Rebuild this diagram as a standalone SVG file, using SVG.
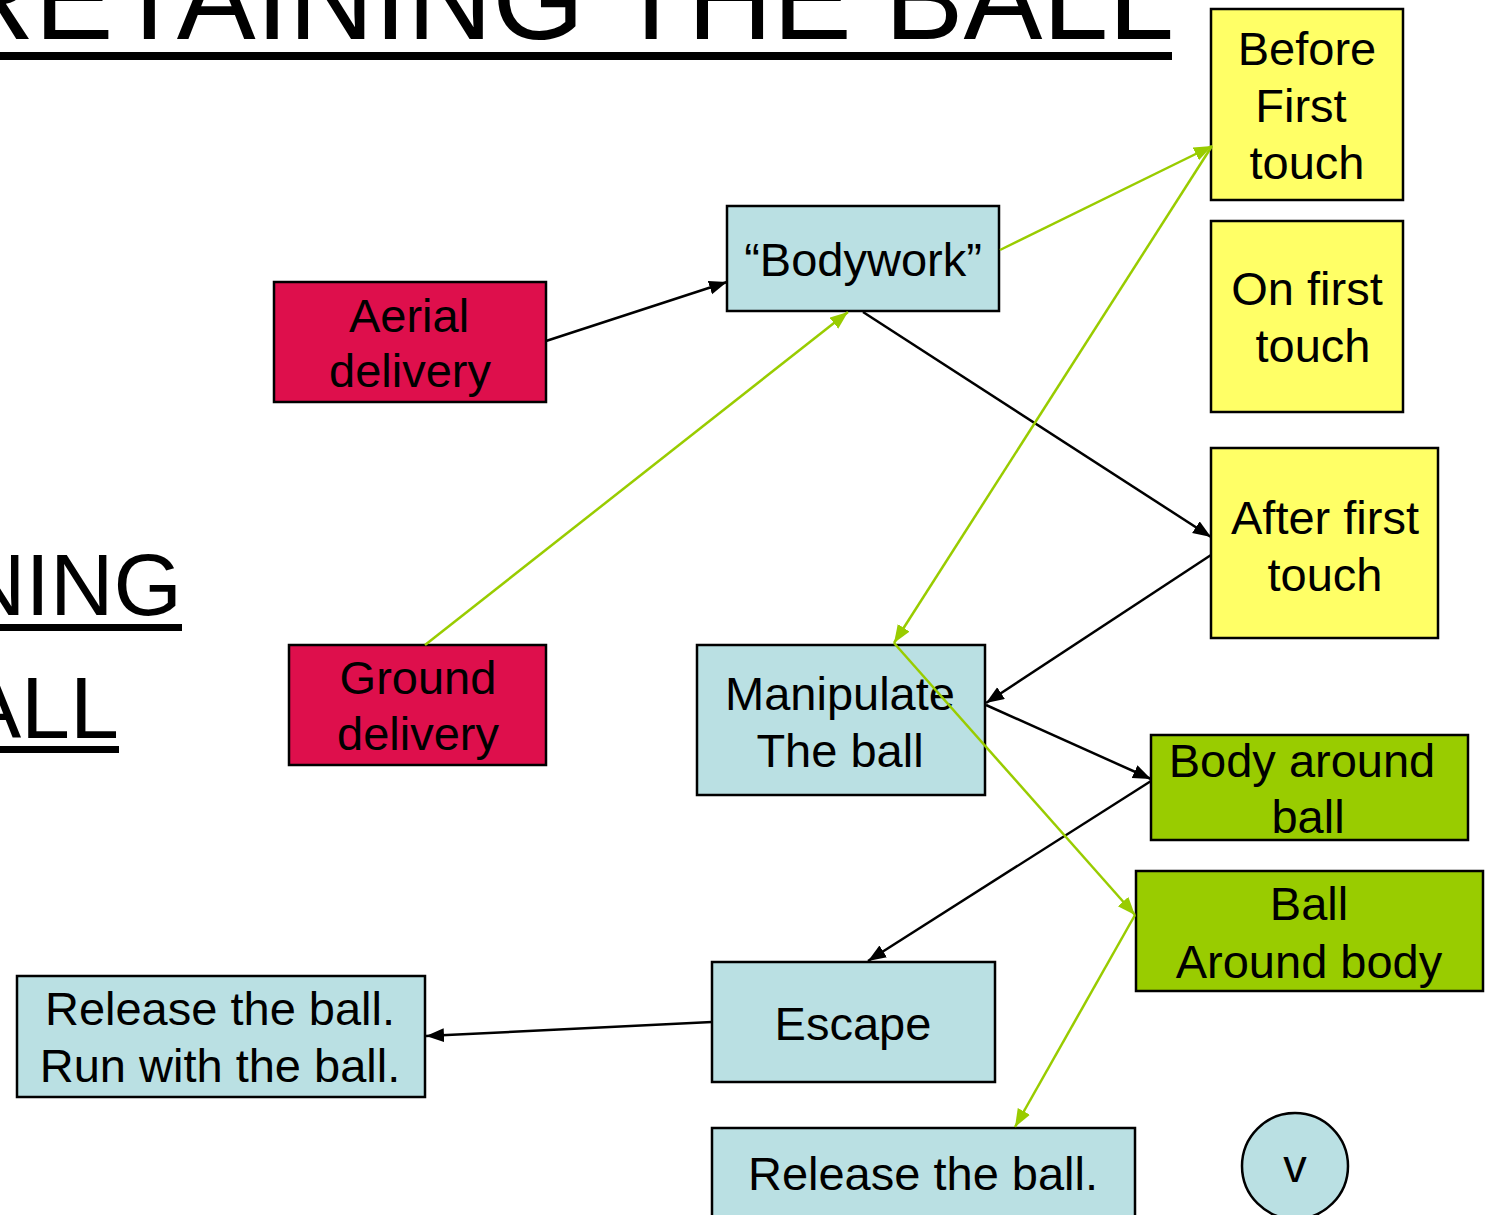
<svg xmlns="http://www.w3.org/2000/svg" width="1488" height="1215" viewBox="0 0 1488 1215">
<defs>
<style>
text{font-family:"Liberation Sans",Arial,sans-serif;fill:#000}
.lbl{font-size:47px;text-anchor:middle}
.box{stroke:#000;stroke-width:2.5}
.blue{fill:#BAE0E3}
.red{fill:#DE0F4C}
.yel{fill:#FFFF66}
.grn{fill:#99CC00}
.k{stroke:#000;stroke-width:2.5;fill:none;marker-end:url(#ak)}
.g{stroke:#99CC00;stroke-width:2.5;fill:none;marker-end:url(#ag)}
</style>
<marker id="ak" markerUnits="userSpaceOnUse" markerWidth="20" markerHeight="16" refX="18" refY="7" orient="auto"><path d="M0,0 L18,7 L0,14 z" fill="#000"/></marker>
<marker id="ag" markerUnits="userSpaceOnUse" markerWidth="20" markerHeight="16" refX="18" refY="7" orient="auto"><path d="M0,0 L18,7 L0,14 z" fill="#99CC00"/></marker>
</defs>
<rect width="1488" height="1215" fill="#fff"/>
<g id="title">
<text x="-51" y="39" font-size="118" textLength="1225" lengthAdjust="spacingAndGlyphs">RETAINING THE BALL</text>
<rect x="0" y="52" width="1172" height="8" fill="#000"/>
</g>
<g id="side-title">
<text x="182" y="615" font-size="88" text-anchor="end">RETAINING</text>
<rect x="0" y="624" width="182" height="7" fill="#000"/>
<text x="119" y="738" font-size="88" text-anchor="end">THE BALL</text>
<rect x="0" y="746" width="119" height="7" fill="#000"/>
</g>
<g id="before-first-touch">
<rect class="box yel" x="1211" y="9" width="192" height="191"/>
<text class="lbl" x="1307" y="65">Before</text>
<text class="lbl" x="1301" y="122">First</text>
<text class="lbl" x="1307" y="179">touch</text>
</g>
<g id="on-first-touch">
<rect class="box yel" x="1211" y="221" width="192" height="191"/>
<text class="lbl" x="1307" y="305">On first</text>
<text class="lbl" x="1313" y="362">touch</text>
</g>
<g id="after-first-touch">
<rect class="box yel" x="1211" y="448" width="227" height="190"/>
<text class="lbl" x="1325" y="534">After first</text>
<text class="lbl" x="1325" y="591">touch</text>
</g>
<g id="bodywork">
<rect class="box blue" x="727" y="206" width="272" height="105"/>
<text class="lbl" x="863" y="276">“Bodywork”</text>
</g>
<g id="aerial-delivery">
<rect class="box red" x="274" y="282" width="272" height="120"/>
<text class="lbl" x="409" y="332">Aerial</text>
<text class="lbl" x="410" y="387">delivery</text>
</g>
<g id="ground-delivery">
<rect class="box red" x="289" y="645" width="257" height="120"/>
<text class="lbl" x="418" y="694">Ground</text>
<text class="lbl" x="418" y="750">delivery</text>
</g>
<g id="manipulate">
<rect class="box blue" x="697" y="645" width="288" height="150"/>
<text class="lbl" x="840" y="710">Manipulate</text>
<text class="lbl" x="840" y="767">The ball</text>
</g>
<g id="body-around-ball">
<rect class="box grn" x="1151" y="735" width="317" height="105"/>
<text class="lbl" x="1302" y="777">Body around</text>
<text class="lbl" x="1308" y="833">ball</text>
</g>
<g id="ball-around-body">
<rect class="box grn" x="1136" y="871" width="347" height="120"/>
<text class="lbl" x="1309" y="920">Ball</text>
<text class="lbl" x="1309" y="978">Around body</text>
</g>
<g id="escape">
<rect class="box blue" x="712" y="962" width="283" height="120"/>
<text class="lbl" x="853" y="1040">Escape</text>
</g>
<g id="release-run">
<rect class="box blue" x="17" y="976" width="408" height="121"/>
<text class="lbl" x="220" y="1025">Release the ball.</text>
<text class="lbl" x="220" y="1082">Run with the ball.</text>
</g>
<g id="release">
<rect class="box blue" x="712" y="1128" width="423" height="100"/>
<text class="lbl" x="923" y="1190">Release the ball.</text>
</g>
<g id="v-circle">
<circle class="box blue" cx="1295" cy="1166" r="53"/>
<text class="lbl" x="1295" y="1182">v</text>
</g>
<g id="connectors">
<line class="k" x1="546" y1="341" x2="727" y2="282"/>
<line class="k" x1="863" y1="312" x2="1211" y2="537"/>
<line class="k" x1="1211" y1="555" x2="986" y2="703"/>
<line class="k" x1="986" y1="705" x2="1151" y2="779"/>
<line class="k" x1="1151" y1="781" x2="868" y2="961"/>
<line class="k" x1="712" y1="1022" x2="426" y2="1036"/>
<line class="g" x1="425" y1="645" x2="848" y2="312"/>
<line class="g" x1="1000" y1="250" x2="1212" y2="146"/>
<line class="g" x1="1212" y1="146" x2="894" y2="643"/>
<line class="g" x1="894" y1="643" x2="1135" y2="915"/>
<line class="g" x1="1135" y1="915" x2="1015" y2="1127"/>
</g>
</svg>
